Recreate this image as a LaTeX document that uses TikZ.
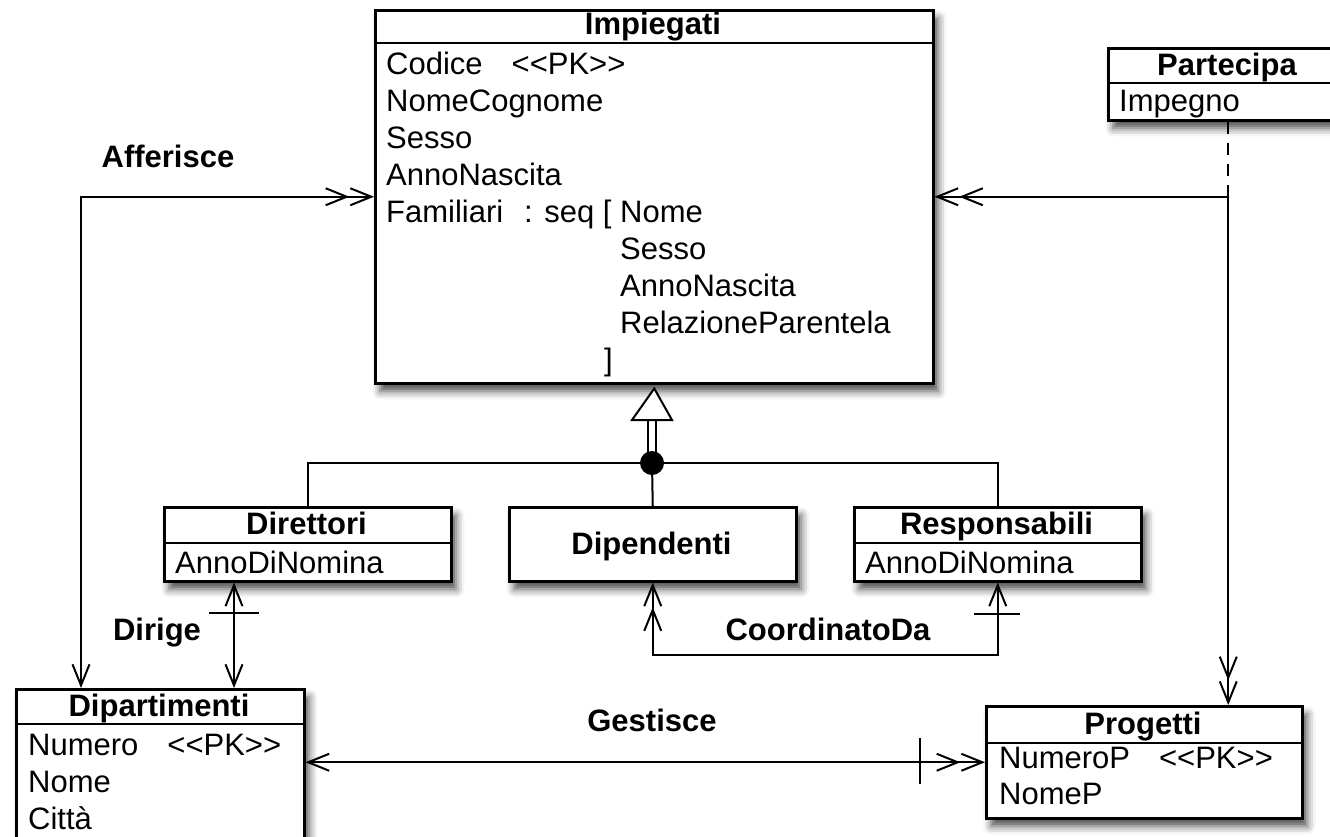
\documentclass[tikz,border=0pt]{standalone}
\usepackage{fontspec}
\setmainfont{Liberation Sans}
\usetikzlibrary{arrows.meta,shadows.blur}

\newcommand\umlfont{\fontsize{31}{37}\selectfont}
\newcommand\pk{<\kern0pt<PK>\kern0pt>}

\tikzset{
  classbox/.style={draw, line width=2.5pt, fill=white, inner sep=0pt, anchor=north west,
    blur shadow={shadow xshift=5pt, shadow yshift=-8pt, shadow blur radius=8pt, shadow opacity=70}},
  rowline/.style={line width=2.5pt},
  attr/.style={anchor=base west, inner sep=0pt},
  title/.style={anchor=base, inner sep=0pt, font=\umlfont\bfseries},
  assoc/.style={line width=2pt},
  genline/.style={line width=2pt},
}

\begin{document}
\begin{tikzpicture}[x=1pt, y=-1pt, >={Straight Barb[length=21pt,width=17pt]}, font=\umlfont]
\useasboundingbox (0,0) rectangle (1330,836);

% classi
\node[classbox, minimum width=558pt, minimum height=373pt] (Impiegati) at (374,9) {};
\draw[rowline] (374,43) -- (932,43);
\node[title] (tImpiegati) at (653,34) {Impiegati};
\node[attr] (aCodice) at (386,74) {Codice\hspace{29pt}\pk};
\node[attr] (aNomeCognome) at (386,111) {NomeCognome};
\node[attr] (aSesso) at (386,148) {Sesso};
\node[attr] (aAnnoNascita) at (386,185) {AnnoNascita};
\node[attr] (aFamiliari) at (386,222) {\makebox[234pt][l]{Familiari\hfill: seq [\ }Nome};
\node[attr] (fSesso) at (620,259) {Sesso};
\node[attr] (fAnnoNascita) at (620,296) {AnnoNascita};
\node[attr] (fRelazione) at (620,333) {RelazioneParentela};
\node[attr] (fChiusa) at (604,370) {]};

\node[classbox, minimum width=240pt, minimum height=72pt] (Partecipa) at (1107,47) {};
\draw[rowline] (1107,83) -- (1347,83);
\node[title] (tPartecipa) at (1227,75) {Partecipa};
\node[attr] (aImpegno) at (1119,111) {Impegno};

\node[classbox, minimum width=287pt, minimum height=74pt] (Direttori) at (163,506) {};
\draw[rowline] (163,543) -- (450,543);
\node[title] (tDirettori) at (306.5,534) {Direttori};
\node[attr] (aNominaDir) at (175,573) {AnnoDiNomina};

\node[classbox, minimum width=287pt, minimum height=74pt] (Dipendenti) at (508,506) {};
\node[title] (tDipendenti) at (651.5,554) {Dipendenti};

\node[classbox, minimum width=287pt, minimum height=74pt] (Responsabili) at (853,506) {};
\draw[rowline] (853,543) -- (1140,543);
\node[title] (tResponsabili) at (996.5,534) {Responsabili};
\node[attr] (aNominaResp) at (865,573) {AnnoDiNomina};

\node[classbox, minimum width=288pt, minimum height=160pt] (Dipartimenti) at (15,688) {};
\draw[rowline] (15,724) -- (303,724);
\node[title] (tDipartimenti) at (159,716) {Dipartimenti};
\node[attr] (aNumero) at (28,755) {Numero\hspace{29pt}\pk};
\node[attr] (aNome) at (28,792) {Nome};
\node[attr] (aCitta) at (28,829) {Città};

\node[classbox, minimum width=316pt, minimum height=112pt] (Progetti) at (985,705) {};
\draw[rowline] (985,743) -- (1301,743);
\node[title] (tProgetti) at (1143,734) {Progetti};
\node[attr] (aNumeroP) at (999,768) {NumeroP\hspace{29pt}\pk};
\node[attr] (aNomeP) at (999,804) {NomeP};

% gerarchia
\coordinate (isa) at (652,463);
\coordinate (tri) at (652,420);
\draw[genline] (Direttori.north) |- (isa) -| (Responsabili.north);
\draw[genline] (isa) -- (Dipendenti.north);
\draw[line width=1.8pt, double, double distance=6pt] (isa) -- (tri);
\draw[genline, fill=white] ([yshift=-4pt]Impiegati.south) -- (672,420) -- (632,420) -- cycle;
\node[circle, fill, inner sep=0pt, minimum size=24pt] (isadot) at (isa) {};

% associazioni
\coordinate (afferisce) at (81,196);
\draw[assoc, <->>] (Dipartimenti.north -| afferisce) |- (Impiegati.west);
\node[title] (lAfferisce) at (168,167) {Afferisce};

\draw[assoc, <<->>] (Impiegati.east) -| (Progetti.north -| Partecipa.south);
\draw[assoc, dash pattern=on 12pt off 9pt] (Partecipa.south) -- (Partecipa.south |- Impiegati.east);

\coordinate (dirige) at (234,613);
\draw[assoc, <->] (Direttori.south -| dirige) -- (Dipartimenti.north -| dirige);
\draw[assoc] ([xshift=-25pt]dirige) -- ([xshift=25pt]dirige);
\node[title] (lDirige) at (157,640) {Dirige};

\coordinate (coordinato) at (997,655);
\coordinate (ctick) at (997,614);
\draw[assoc, <<->] (Dipendenti.south) |- (Responsabili.south |- coordinato) -- (Responsabili.south);
\draw[assoc] ([xshift=-23pt]ctick) -- ([xshift=23pt]ctick);
\node[title] (lCoordinato) at (828,640) {CoordinatoDa};

\coordinate (gtick) at (920,761);
\draw[assoc, <->>] (Progetti.west -| Dipartimenti.east) -- (Progetti.west);
\draw[assoc] ([yshift=-23pt]gtick) -- ([yshift=23pt]gtick);
\node[title] (lGestisce) at (652,731) {Gestisce};
\end{tikzpicture}
\end{document}
